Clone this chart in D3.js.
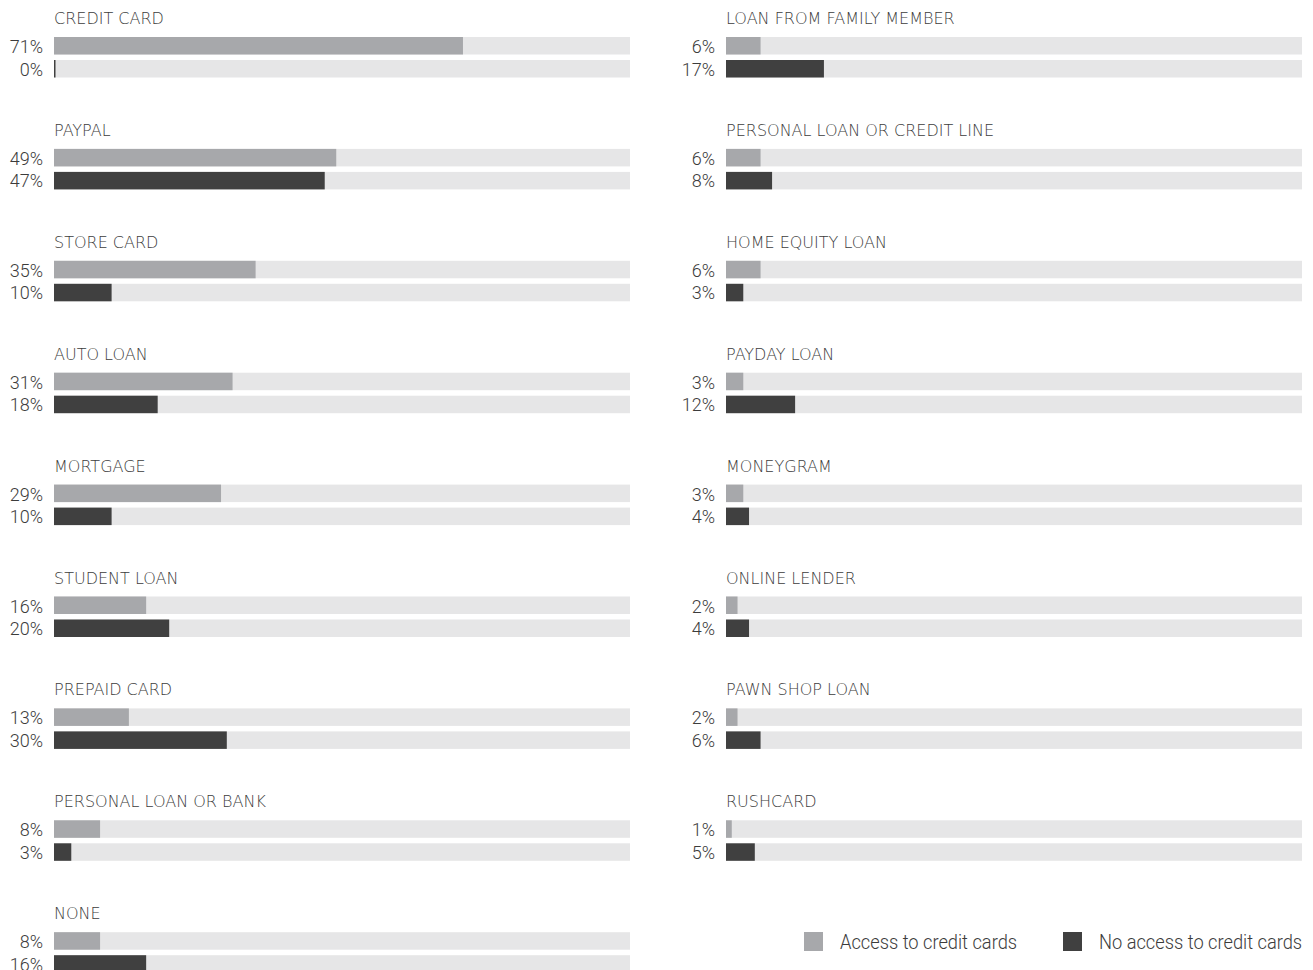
<!DOCTYPE html>
<html>
<head>
<meta charset="utf-8">
<script src="https://cdn.jsdelivr.net/npm/d3@7"></script>
<style>
  html, body { margin: 0; padding: 0; background: #fff; }
  svg { display: block; }
  text { font-family: Roboto, "Noto Sans", sans-serif; font-weight: 300; }
  text.title { font-family: "DejaVu Sans", sans-serif; font-weight: 200; }
</style>
</head>
<body>
<svg id="chart" width="1313" height="970"></svg>
<script>
const leftCategories = ["CREDIT CARD", "PAYPAL", "STORE CARD", "AUTO LOAN", "MORTGAGE", "STUDENT LOAN", "PREPAID CARD", "PERSONAL LOAN OR BANK", "NONE"];
const leftAccess   = [71, 49, 35, 31, 29, 16, 13, 8, 8];
const leftNoAccess = [0, 47, 10, 18, 10, 20, 30, 3, 16];

const rightCategories = ["LOAN FROM FAMILY MEMBER", "PERSONAL LOAN OR CREDIT LINE", "HOME EQUITY LOAN", "PAYDAY LOAN", "MONEYGRAM", "ONLINE LENDER", "PAWN SHOP LOAN", "RUSHCARD"];
const rightAccess   = [6, 6, 6, 3, 3, 2, 2, 1];
const rightNoAccess = [17, 8, 3, 12, 4, 4, 6, 5];

const seriesNames = ["Access to credit cards", "No access to credit cards"];
const colors = { track: "#e6e6e7", access: "#a7a8ab", noAccess: "#404040", text: "#3c3c3c" };

const svg = d3.select("#chart");

const step = 111.9;
const rowY = d3.scaleLinear().domain([0, 1]).range([24, 24 + step]);

function drawColumn(cats, a, b, x0) {
  const x = d3.scaleLinear().domain([0, 100]).range([x0, x0 + 576]);
  const data = cats.map((c, i) => ({ c, i, v: [a[i], b[i]] }));
  const g = svg.append("g");
  const rows = g.selectAll("g.row").data(data).join("g")
    .attr("class", "row")
    .attr("transform", d => `translate(0,${rowY(d.i)})`);

  rows.append("text")
    .attr("class", "title")
    .attr("x", x(0))
    .attr("y", 0)
    .attr("font-size", 16)
    .attr("fill", colors.text)
    .text(d => d.c);

  [0, 1].forEach(k => {
    const top = 13 + k * 23;
    rows.append("rect")
      .attr("x", x(0)).attr("y", top)
      .attr("width", x(100) - x(0)).attr("height", 17.5)
      .attr("fill", colors.track);
    rows.append("rect")
      .attr("x", x(0)).attr("y", top)
      .attr("width", d => Math.max(x(d.v[k]) - x(0), 1.5)).attr("height", 17.5)
      .attr("fill", k === 0 ? colors.access : colors.noAccess);
    rows.append("text")
      .attr("x", x(0) - 11)
      .attr("y", top + 16 - k * 0.5)
      .attr("text-anchor", "end")
      .attr("font-size", 18)
      .attr("fill", colors.text)
      .text(d => d.v[k] + "%");
  });
}

drawColumn(leftCategories, leftAccess, leftNoAccess, 54);
drawColumn(rightCategories, rightAccess, rightNoAccess, 726);

// Legend
const legend = svg.append("g");
const legendItems = [
  { name: seriesNames[0], color: colors.access, x: 804 },
  { name: seriesNames[1], color: colors.noAccess, x: 1063 }
];
const li = legend.selectAll("g").data(legendItems).join("g")
  .attr("transform", d => `translate(${d.x},932)`);
li.append("rect").attr("width", 19).attr("height", 19).attr("fill", d => d.color);
li.append("text")
  .attr("transform", "translate(36,17) scale(0.87,1)")
  .attr("font-size", 21)
  .attr("fill", colors.text).text(d => d.name);
</script>
</body>
</html>
